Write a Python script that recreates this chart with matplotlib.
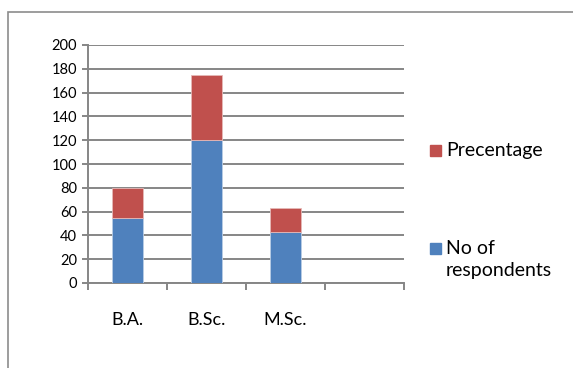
import numpy as np
import matplotlib
matplotlib.use("Agg")
from matplotlib import pyplot as plt
from matplotlib.patches import Rectangle

plt.rcParams["font.family"] = ["Lato", "DejaVu Sans"]

courses = ["B.A.", "B.Sc.", "M.Sc.", ""]
respondents = [55, 120, 43, 0]
percentage = [25, 55, 20, 0]

blue = "#4F81BD"
red = "#C0504D"
grid_col = "#868686"

fig = plt.figure(figsize=(5.73, 3.68), dpi=100)
W, H = 573, 368
ax = fig.add_axes([88 / W, 1 - 283 / H, (404 - 88) / W, (283 - 45) / H])

# outer chart border (only top and left visible)
fig.patches.append(Rectangle((8 / W, -0.1), 1.2, (1 - 12 / H) + 0.1,
                             transform=fig.transFigure, fill=False,
                             edgecolor="#8c8c8c", linewidth=1.2))

x = np.arange(len(courses))
width = 0.39
ax.bar(x, respondents, width=width, color=blue, edgecolor="#b9cde5",
       linewidth=0.6, zorder=3)
ax.bar(x, percentage, width=width, bottom=respondents, color=red,
       edgecolor="#e6b9b8", linewidth=0.6, zorder=3)

ax.set_xlim(-0.5, len(courses) - 0.5)
ax.set_ylim(0, 200)
ax.set_yticks(range(0, 201, 20))
ax.yaxis.grid(True, color=grid_col, linewidth=1.4, zorder=0)
ax.set_axisbelow(True)

ax.set_xticks(x)
ax.set_xticklabels(courses, fontsize=13)
ax.tick_params(axis="x", length=0, pad=21)
ax.set_xticks(np.arange(-0.5, len(courses), 1), minor=True)
ax.tick_params(axis="x", which="minor", length=5, width=1.4, color=grid_col)
ax.tick_params(axis="y", length=4, width=1.4, color=grid_col, labelsize=10.5, pad=4)

for side in ["top", "right"]:
    ax.spines[side].set_visible(False)
for side in ["left", "bottom"]:
    ax.spines[side].set_color(grid_col)
    ax.spines[side].set_linewidth(1.4)

# legend on the right: square key + label per series
legend_items = [("Precentage", red, 150), ("No of\nrespondents", blue, 248)]
for label, col, ypx in legend_items:
    fig.patches.append(Rectangle((430 / W, 1 - (ypx + 5.5) / H), 11 / W, 11 / H,
                                 transform=fig.transFigure, color=col))
    fig.text(446 / W, 1 - (ypx - 8) / H, label, fontsize=14, va="top",
             ha="left", linespacing=1.35)

plt.savefig("out.png", dpi=100)
